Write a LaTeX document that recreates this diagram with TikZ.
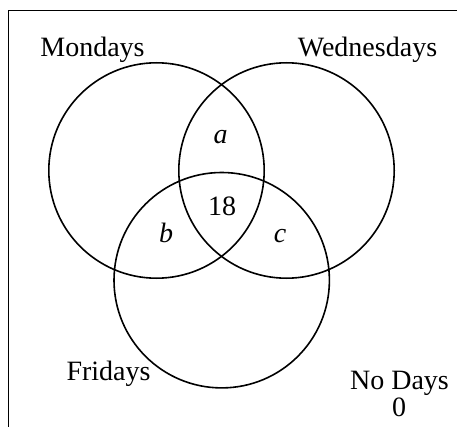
\documentclass[tikz,border=0pt]{standalone}
\usepackage{fontspec}
\setmainfont{Liberation Serif}
\begin{document}
\begin{tikzpicture}[x=1pt,y=-1pt,
  setring/.style={draw,line width=1.6pt},
  lbl/.style={inner sep=0pt,anchor=base,font=\fontsize{28}{28}\selectfont}]
\useasboundingbox (0,0) rectangle (457,427);
% frame (top and left edges)
\coordinate (ftr) at (457,10.5);
\coordinate (ftl) at (8.5,10.5);
\coordinate (fbl) at (8.5,427);
\draw[line width=1.6pt] (ftr) -- (ftl) -- (fbl);
% circles
\coordinate (cm) at (156.5,170.5);
\coordinate (cw) at (286.5,170.5);
\coordinate (cf) at (221.7,280.2);
\draw[setring] (cm) circle[radius=107.7pt];
\draw[setring] (cw) circle[radius=107.7pt];
\draw[setring] (cf) circle[radius=107.7pt];
% labels
\node[lbl] (mon) at (92.5,56.7) {Mondays};
\node[lbl] (wed) at (367.5,56.7) {Wednesdays};
\node[lbl] (fri) at (108.5,380) {Fridays};
\node[lbl] (nod) at (399.5,389) {No Days};
\node[lbl] (zero) at (399,416.7) {0};
\node[lbl] (la) at (220.7,144) {\itshape a};
\node[lbl] (l18) at (222,216) {18};
\node[lbl] (lb) at (166,243) {\itshape b};
\node[lbl] (lc) at (280,243) {\itshape c};
\end{tikzpicture}
\end{document}
